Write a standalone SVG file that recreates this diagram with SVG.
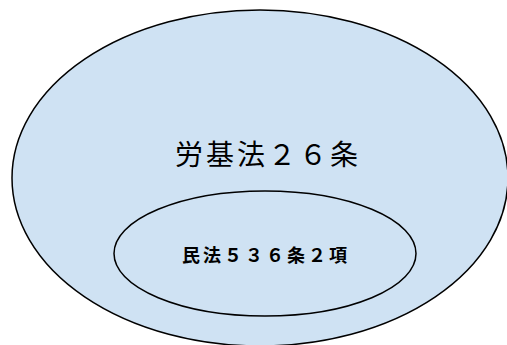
<svg xmlns="http://www.w3.org/2000/svg" width="507" height="345" viewBox="0 0 507 345">
<style>
.shape{fill:#cfe2f3;stroke:#000;stroke-width:1.5}
.inner{fill:none;stroke:#000;stroke-width:1.5}
.t1{font-family:"Noto Sans CJK JP","Noto Sans",sans-serif;font-size:28px;fill:#000;text-anchor:middle}
.t2{font-family:"Noto Sans CJK JP","Noto Sans",sans-serif;font-size:18px;font-weight:bold;fill:#000;text-anchor:middle}
</style>
<rect width="507" height="345" fill="#fff"/>
<g id="node-labor">
<ellipse class="shape" cx="260" cy="178" rx="248" ry="168"/>
<text class="t1" x="268" y="165" letter-spacing="3">労基法２６条</text>
</g>
<g id="node-civil">
<ellipse class="inner" cx="265" cy="253.5" rx="151" ry="62.5"/>
<text class="t2" x="266" y="262" letter-spacing="3">民法５３６条２項</text>
</g>
<g id="connectors"></g>
</svg>
